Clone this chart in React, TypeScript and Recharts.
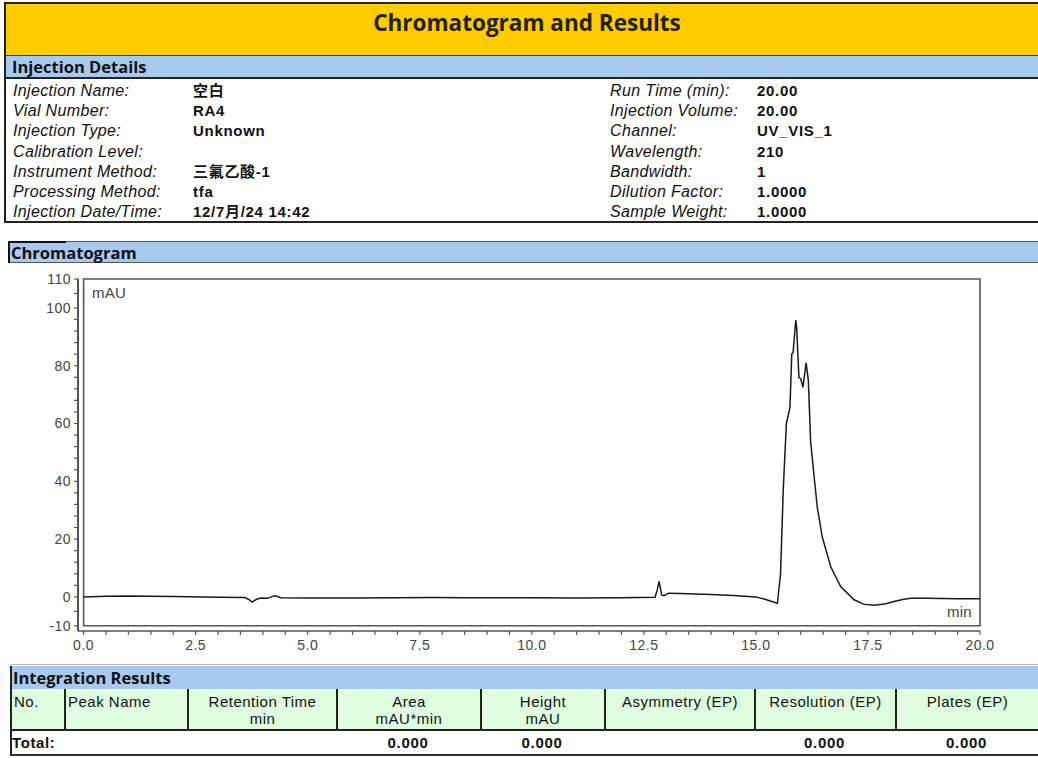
import React from "react";
import { LineChart, Line, XAxis, YAxis, ReferenceArea } from "recharts";

// ---- Data ----
const times = [
  0.0, 0.5, 1.0, 2.0, 3.0, 3.6, 3.7, 3.76, 3.85, 3.95, 4.1, 4.2, 4.28, 4.4, 5.0, 6.0, 7.0, 7.8, 8.5, 9.0,
  10.0, 11.0, 12.0, 12.75, 12.8, 12.84, 12.87, 12.9, 12.95, 13.05, 13.3, 14.0, 14.5, 15.0, 15.2, 15.48,
  15.55, 15.61, 15.68, 15.76, 15.8, 15.83, 15.89, 15.91, 15.96, 16.0, 16.05, 16.12, 16.17, 16.22, 16.3,
  16.37, 16.48, 16.67, 16.89, 17.19, 17.4, 17.64, 17.9, 18.08, 18.3, 18.46, 18.83, 19.5, 20.0,
];
const mau = [
  0.0, 0.2, 0.3, 0.1, -0.1, -0.2, -1.0, -1.8, -0.9, -0.4, -0.5, 0.1, 0.4, -0.3, -0.4, -0.4, -0.3, -0.2, -0.3, -0.3,
  -0.3, -0.4, -0.3, -0.1, 2.5, 5.4, 3.0, 0.6, 0.4, 1.3, 1.2, 0.8, 0.5, 0.0, -0.8, -2.2,
  8, 37, 60, 65.6, 84, 84.6, 95.8, 93, 76, 75.5, 72.5, 81, 75, 54, 41.5,
  31, 20.8, 10.4, 3.6, -1.0, -2.5, -2.9, -2.4, -1.6, -0.8, -0.5, -0.5, -0.6, -0.6,
];

const xTicks = [
  0, 0.5, 1, 1.5, 2, 2.5, 3, 3.5, 4, 4.5, 5, 5.5, 6, 6.5, 7, 7.5, 8, 8.5, 9, 9.5, 10,
  10.5, 11, 11.5, 12, 12.5, 13, 13.5, 14, 14.5, 15, 15.5, 16, 16.5, 17, 17.5, 18, 18.5, 19, 19.5, 20,
];
const xLabels = [0, 2.5, 5, 7.5, 10, 12.5, 15, 17.5, 20];
const yTicks = [
  -10, -5, 0, 4, 8, 12, 16, 20, 24, 28, 32, 36, 40, 44, 48, 52, 56, 60, 64, 68, 72, 76, 80,
  84, 88, 92, 96, 100, 105, 110,
];
const yLabels = [-10, 0, 20, 40, 60, 80, 100, 110];

const detailLabelsLeft = [
  "Injection Name:", "Vial Number:", "Injection Type:", "Calibration Level:",
  "Instrument Method:", "Processing Method:", "Injection Date/Time:",
];
const detailValuesLeft = ["空白", "RA4", "Unknown", "", "三氟乙酸-1", "tfa", "12/7月/24 14:42"];
const detailLabelsRight = [
  "Run Time (min):", "Injection Volume:", "Channel:", "Wavelength:",
  "Bandwidth:", "Dilution Factor:", "Sample Weight:",
];
const detailValuesRight = ["20.00", "20.00", "UV_VIS_1", "210", "1", "1.0000", "1.0000"];

const tableHeaders1 = ["No.", "Peak Name", "Retention Time", "Area", "Height", "Asymmetry (EP)", "Resolution (EP)", "Plates (EP)"];
const tableHeaders2 = ["", "", "min", "mAU*min", "mAU", "", "", ""];
const totalValues = ["", "", "", "0.000", "0.000", "", "0.000", "0.000"];

// ---- Layout constants ----
const colEdges = [10, 64, 187, 336, 480, 604, 754, 895, 1038];
const ARIAL = '"Liberation Sans", Arial, "Noto Sans CJK SC", sans-serif';
const HEAD = '"Open Sans", "Liberation Sans", sans-serif';
const YELLOW = "#FFCC00";
const BLUE = "#A7C9EE";
const GREEN = "#DFFEDF";

const chartData = times.map((t, i) => ({ t, v: mau[i] }));

const XTick = (props: any) => {
  const { x, y, payload } = props;
  const show = xLabels.includes(payload.value);
  if (!show) return <g />;
  return (
    <text x={x} y={y + 13} textAnchor="middle" fontFamily={ARIAL} fontSize={14} letterSpacing={0.5} fill="#444">
      {Number(payload.value).toFixed(1)}
    </text>
  );
};

const YTick = (props: any) => {
  const { x, y, payload } = props;
  const show = yLabels.includes(payload.value);
  if (!show) return <g />;
  return (
    <text x={x} y={y + 5} textAnchor="end" fontFamily={ARIAL} fontSize={14} letterSpacing={0.5} fill="#444">
      {String(payload.value)}
    </text>
  );
};

const abs = (l: number, t: number, w: number, h: number, extra: React.CSSProperties = {}): React.CSSProperties => ({
  position: "absolute",
  left: l,
  top: t,
  width: w,
  height: h,
  boxSizing: "border-box",
  ...extra,
});

const labelStyle: React.CSSProperties = {
  fontFamily: ARIAL,
  fontStyle: "italic",
  fontSize: 16,
  letterSpacing: 0.35,
  lineHeight: "19px",
  color: "#111",
  whiteSpace: "nowrap",
};
const valueStyle: React.CSSProperties = {
  fontFamily: ARIAL,
  fontWeight: 700,
  fontSize: 15,
  letterSpacing: 0.7,
  lineHeight: "19px",
  color: "#111",
  whiteSpace: "nowrap",
};

export default function App() {
  const rowTop = 81;
  const rowH = 20.2;
  return (
    <div style={abs(0, 0, 1038, 758, { background: "#fff", overflow: "hidden" })}>
      {/* Title bar */}
      <div
        style={abs(4, 2, 1040, 54, {
          background: YELLOW,
          borderTop: "2px solid #222",
          borderLeft: "2px solid #222",
          borderBottom: "1.5px solid #333",
          display: "flex",
          alignItems: "center",
          justifyContent: "center",
          fontFamily: HEAD,
          fontWeight: 700,
          fontSize: 22.5,
          color: "#222",
          paddingLeft: 4,
          paddingBottom: 14,
        })}
      >
        Chromatogram and Results
      </div>
      {/* Injection details header */}
      <div
        style={abs(4, 56, 1040, 23, {
          background: BLUE,
          borderLeft: "2px solid #222",
          borderBottom: "2px solid #222",
          fontFamily: HEAD,
          fontWeight: 700,
          fontSize: 16.5,
          color: "#111",
          paddingLeft: 6,
          lineHeight: "22px",
        })}
      >
        Injection Details
      </div>
      {/* Injection details body */}
      <div
        style={abs(4, 79, 1040, 144, {
          borderLeft: "2px solid #222",
          borderBottom: "2px solid #222",
        })}
      />
      {detailLabelsLeft.map((s, i) => (
        <div key={"ll" + i} style={abs(13, rowTop + i * rowH, 180, 19, labelStyle)}>
          {s}
        </div>
      ))}
      {detailValuesLeft.map((s, i) => (
        <div key={"lv" + i} style={abs(193, rowTop + i * rowH, 300, 19, valueStyle)}>
          {s}
        </div>
      ))}
      {detailLabelsRight.map((s, i) => (
        <div key={"rl" + i} style={abs(610, rowTop + i * rowH, 150, 19, labelStyle)}>
          {s}
        </div>
      ))}
      {detailValuesRight.map((s, i) => (
        <div key={"rv" + i} style={abs(757, rowTop + i * rowH, 200, 19, valueStyle)}>
          {s}
        </div>
      ))}

      {/* Chromatogram header */}
      <div
        style={abs(8, 241, 1040, 22, {
          background: BLUE,
          borderTop: "1px solid #555",
          borderBottom: "1px solid #555",
          fontFamily: HEAD,
          fontWeight: 700,
          fontSize: 16.5,
          color: "#111",
          paddingLeft: 3,
          lineHeight: "21px",
        })}
      >
        Chromatogram
      </div>
      <div style={abs(8, 241, 58, 22, { borderTop: "2px solid #111", borderLeft: "2px solid #111" })} />

      {/* Chart */}
      <div style={abs(0, 262, 1000, 400)}>
        <LineChart width={1000} height={400} data={chartData} margin={{ top: 17, right: 20, bottom: 0, left: 0 }}>
          <XAxis
            type="number"
            dataKey="t"
            domain={[-0.125, 20]}
            ticks={xTicks}
            interval={0}
            allowDataOverflow
            height={31}
            tickSize={4}
            tickMargin={2}
            axisLine={{ stroke: "#555", strokeWidth: 1.5 }}
            tickLine={{ stroke: "#555", strokeWidth: 1.2 }}
            tick={<XTick />}
          />
          <YAxis
            type="number"
            domain={[-11.8, 110]}
            ticks={yTicks}
            interval={0}
            allowDataOverflow
            width={78}
            tickSize={4}
            tickMargin={3}
            axisLine={{ stroke: "#555", strokeWidth: 2 }}
            tickLine={{ stroke: "#555", strokeWidth: 1.2 }}
            tick={<YTick />}
          />
          <ReferenceArea
            x1={0}
            x2={20}
            y1={-10}
            y2={110}
            fill="#fff"
            fillOpacity={0}
            stroke="#555"
            strokeWidth={1.6}
            ifOverflow="visible"
          />
          <Line
            type="linear"
            dataKey="v"
            stroke="#1a1a1a"
            strokeWidth={1.5}
            dot={false}
            isAnimationActive={false}
          />
        </LineChart>
      </div>
      <div style={abs(92, 284, 60, 18, { fontFamily: ARIAL, fontSize: 15, letterSpacing: 0.3, color: "#444", lineHeight: "18px" })}>
        mAU
      </div>
      <div
        style={abs(902, 603, 70, 18, {
          fontFamily: ARIAL,
          fontSize: 15,
          letterSpacing: 0.3,
          color: "#444",
          lineHeight: "18px",
          textAlign: "right",
        })}
      >
        min
      </div>

      {/* Integration results */}
      <div style={abs(10, 664, 1040, 1, { background: "#bbb" })} />
      <div
        style={abs(10, 666, 1040, 23, {
          background: BLUE,
          borderLeft: "2px solid #222",
          fontFamily: HEAD,
          fontWeight: 700,
          fontSize: 16.5,
          color: "#111",
          paddingLeft: 1,
          lineHeight: "24px",
        })}
      >
        Integration Results
      </div>
      {tableHeaders1.map((h, i) => {
        const l = colEdges[i];
        const w = colEdges[i + 1] - colEdges[i];
        const leftAlign = i < 2;
        return (
          <div
            key={"th" + i}
            style={abs(l, 689, w, 42, {
              background: GREEN,
              borderLeft: "2px solid #222",
              borderBottom: "2.5px solid #222",
              fontFamily: ARIAL,
              fontSize: 15,
              letterSpacing: 0.5,
              color: "#111",
              textAlign: leftAlign ? "left" : "center",
              paddingLeft: leftAlign ? 2 : 0,
              paddingTop: 4,
              lineHeight: "17px",
              whiteSpace: "nowrap",
            })}
          >
            <div>{h}</div>
            <div>{tableHeaders2[i]}</div>
          </div>
        );
      })}
      <div style={abs(10, 731, 1040, 25, { borderLeft: "2px solid #222", borderBottom: "2px solid #333" })} />
      <div
        style={abs(12, 733, 80, 20, {
          fontFamily: ARIAL,
          fontWeight: 700,
          fontSize: 15,
          letterSpacing: 0.6,
          color: "#111",
          lineHeight: "20px",
        })}
      >
        Total:
      </div>
      {totalValues.map((v, i) =>
        v ? (
          <div
            key={"tv" + i}
            style={abs(colEdges[i], 733, colEdges[i + 1] - colEdges[i], 20, {
              fontFamily: ARIAL,
              fontWeight: 700,
              fontSize: 15,
              letterSpacing: 0.7,
              color: "#111",
              lineHeight: "20px",
              textAlign: "center",
            })}
          >
            {v}
          </div>
        ) : null
      )}
    </div>
  );
}
